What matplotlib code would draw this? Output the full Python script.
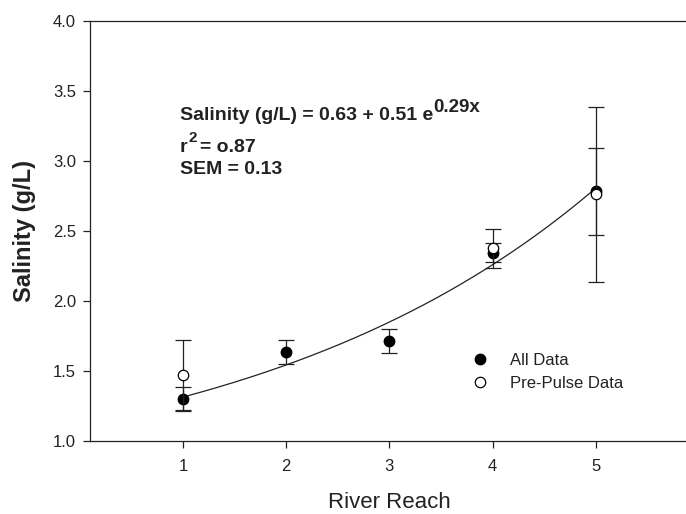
import matplotlib
matplotlib.use('Agg')
import matplotlib.pyplot as plt
import numpy as np

plt.rcParams['font.family'] = ['Liberation Sans', 'DejaVu Sans']

# data
reach = [1, 2, 3, 4, 5]
all_mean = [1.30, 1.634, 1.713, 2.344, 2.78]
all_err = [0.086, 0.087, 0.088, 0.07, 0.31]

pre_reach = [1, 4, 5]
pre_mean = [1.472, 2.373, 2.76]
pre_err = [0.25, 0.14, 0.625]

# fitted curve: 0.63 + 0.51 e^(0.29x)
fit_a, fit_b, fit_k = 0.63, 0.51, 0.29

ink = '#222222'
W, H = 686, 514

fig = plt.figure(figsize=(6.86, 5.14), dpi=100)
ax = fig.add_axes([90/W, 1 - 440.7/H, 609/W, 420/H])

xs = np.linspace(1, 5, 200)
ax.plot(xs, fit_a + fit_b*np.exp(fit_k*xs), color=ink, lw=0.9, zorder=2)

ax.errorbar(reach, all_mean, yerr=all_err, fmt='o', color=ink, ecolor=ink,
            mfc='black', mec='black', ms=7.5, capsize=6, elinewidth=0.9,
            capthick=0.9, zorder=3, label='All Data')
ax.errorbar(pre_reach, pre_mean, yerr=pre_err, fmt='o', color=ink, ecolor=ink,
            mfc='white', mec='black', ms=7.5, mew=0.9, capsize=6, elinewidth=0.9,
            capthick=0.9, zorder=4, label='Pre-Pulse Data')

ax.set_xlim(0.1, 6)
ax.set_ylim(1.0, 4.0)
ax.set_xticks(reach)
ax.set_yticks(np.arange(1.0, 4.01, 0.5))
ax.yaxis.set_major_formatter(matplotlib.ticker.FormatStrFormatter('%.1f'))
ax.tick_params(direction='out', length=5, width=0.9, color=ink,
               labelsize=12, labelcolor=ink)
ax.tick_params(axis='x', pad=8)
ax.tick_params(axis='y', pad=5)
for s in ax.spines.values():
    s.set_color(ink)
    s.set_linewidth(0.9)

ax.set_ylabel('Salinity (g/L)', fontsize=17, fontweight='bold', color=ink)
ax.yaxis.set_label_coords((36 - 90)/609, 0.5)
ax.set_xlabel('River Reach', fontsize=16, color=ink)
ax.xaxis.label.set_va('baseline')
ax.xaxis.set_label_coords((3 - 0.1)/5.9, (440.7 - 508.5)/420)

# equation block, with hand-placed superscripts
def line_with_sup(x, y, main, sup, rise, sup_size):
    t = fig.text(x/W, 1 - y/H, main, fontsize=14, fontweight='bold',
                 color=ink, va='baseline')
    fig.canvas.draw()
    bb = t.get_window_extent()
    s = fig.text(bb.x1/W + 0.5/W, 1 - (y - rise)/H, sup, fontsize=sup_size,
                 fontweight='bold', color=ink, va='baseline')
    fig.canvas.draw()
    return s.get_window_extent()

line_with_sup(180, 120, 'Salinity (g/L) = 0.63 + 0.51 e', '0.29x', 8.5, 13.5)
bb2 = line_with_sup(180, 151.5, 'r', '2', 9, 11)
fig.text(bb2.x1/W + 3/W, 1 - 151.5/H, '= o.87', fontsize=14, fontweight='bold',
         color=ink, va='baseline')
fig.text(180/W, 1 - 174/H, 'SEM = 0.13', fontsize=14, fontweight='bold',
         color=ink, va='baseline')

h, l = ax.get_legend_handles_labels()
h = [hh[0] for hh in h]
ax.legend(h, l, loc='upper left', bbox_to_anchor=(472/W, 1 - 353/H),
          bbox_transform=fig.transFigure, frameon=False, fontsize=12,
          handlelength=1.0, handletextpad=1.25, labelspacing=0.45,
          borderpad=0, borderaxespad=0, labelcolor=ink)

fig.savefig('out.png', dpi=100)
